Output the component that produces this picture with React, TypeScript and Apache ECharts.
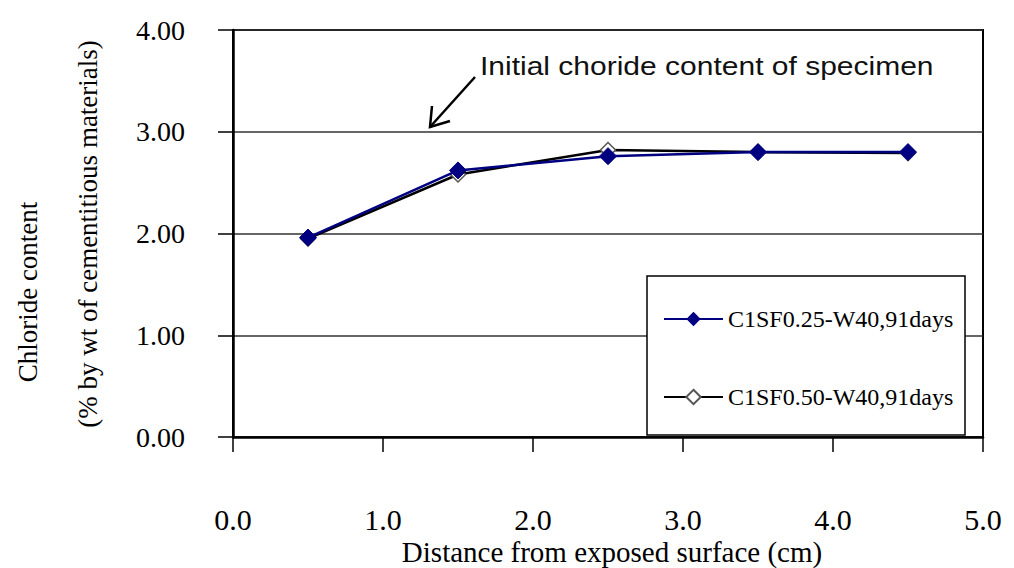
import React, { useEffect, useRef } from "react";
import * as echarts from "echarts";

const distances = [0.5, 1.5, 2.5, 3.5, 4.5];
const seriesA = [1.96, 2.62, 2.76, 2.8, 2.8];
const seriesB = [1.95, 2.58, 2.82, 2.8, 2.79];
const seriesNames = ["C1SF0.25-W40,91days", "C1SF0.50-W40,91days"];
const xTitle = "Distance from exposed surface (cm)";
const yTitle1 = "Chloride content";
const yTitle2 = "(% by wt of cementitious materials)";
const annotation = "Initial choride content of specimen";

const SERIF = "Liberation Serif";
const SANS = "Liberation Sans";

export default function App() {
  const ref = useRef<HTMLDivElement>(null);
  useEffect(() => {
    if (!ref.current) return;
    const chart = echarts.init(ref.current, undefined, { renderer: "svg" });
    chart.setOption({
      animation: false,
      backgroundColor: "#ffffff",
      textStyle: { fontFamily: SERIF },
      grid: {
        left: 233,
        top: 30,
        right: 31,
        bottom: 131,
        show: true,
        borderColor: "#000",
        borderWidth: 2,
        backgroundColor: "transparent",
      },
      xAxis: {
        type: "value",
        min: 0,
        max: 5,
        interval: 1,
        axisLine: { show: true, onZero: false, lineStyle: { color: "#000", width: 2.5 } },
        axisTick: { show: true, length: 15, lineStyle: { color: "#000", width: 1.5 } },
        axisLabel: {
          margin: 67,
          color: "#000",
          fontFamily: SERIF,
          fontSize: 30,
          formatter: (v: number) => v.toFixed(1),
        },
        splitLine: { show: false },
      },
      yAxis: {
        type: "value",
        min: 0,
        max: 4,
        interval: 1,
        axisLine: { show: true, lineStyle: { color: "#000", width: 2.5 } },
        axisTick: { show: true, length: 15, lineStyle: { color: "#000", width: 1.5 } },
        axisLabel: {
          margin: 48,
          color: "#000",
          fontFamily: SERIF,
          fontSize: 28,
          formatter: (v: number) => v.toFixed(2),
        },
        splitLine: { show: true, lineStyle: { color: "#333", width: 1.5 } },
      },
      legend: {
        orient: "vertical",
        left: 658,
        top: 302,
        itemWidth: 59,
        itemHeight: 18,
        itemGap: 54,
        z: 20,
        textStyle: { fontFamily: SERIF, fontSize: 24, color: "#000" },
        data: seriesNames,
      },
      graphic: [
        {
          type: "rect",
          z: 10,
          shape: { x: 647, y: 276, width: 318, height: 159 },
          style: { fill: "#fff", stroke: "#000", lineWidth: 1.5 },
        },
        {
          type: "text",
          z: 10,
          x: 480,
          y: 66,
          scaleX: 1.2,
          style: {
            text: annotation,
            fontFamily: SANS,
            fontSize: 25,
            fill: "#111",
            verticalAlign: "middle",
          },
        },
        {
          type: "line",
          z: 10,
          shape: { x1: 475, y1: 77, x2: 430, y2: 127 },
          style: { stroke: "#000", lineWidth: 2.5 },
        },
        {
          type: "polyline",
          z: 10,
          shape: { points: [[432, 106], [430, 127], [450, 121]] },
          style: { stroke: "#000", lineWidth: 2.5, fill: null },
        },
        {
          type: "text",
          z: 10,
          x: 28,
          y: 292,
          rotation: Math.PI / 2,
          style: {
            text: yTitle1,
            fontFamily: SERIF,
            fontSize: 27,
            fill: "#000",
            align: "center",
            verticalAlign: "middle",
          },
        },
        {
          type: "text",
          z: 10,
          x: 88,
          y: 234,
          rotation: Math.PI / 2,
          style: {
            text: yTitle2,
            fontFamily: SERIF,
            fontSize: 27,
            fill: "#000",
            align: "center",
            verticalAlign: "middle",
          },
        },
        {
          type: "text",
          z: 10,
          x: 612,
          y: 552,
          style: {
            text: xTitle,
            fontFamily: SERIF,
            fontSize: 29,
            fill: "#000",
            align: "center",
            verticalAlign: "middle",
          },
        },
      ],
      series: [
        {
          name: seriesNames[1],
          type: "line",
          z: 3,
          data: distances.map((d, i) => [d, seriesB[i]]),
          symbol: "diamond",
          symbolSize: 15,
          lineStyle: { color: "#000", width: 2.5 },
          itemStyle: { color: "#fff", borderColor: "#555", borderWidth: 1.5 },
        },
        {
          name: seriesNames[0],
          type: "line",
          z: 4,
          data: distances.map((d, i) => [d, seriesA[i]]),
          symbol: "diamond",
          symbolSize: 17,
          lineStyle: { color: "#000080", width: 2.5 },
          itemStyle: { color: "#000080", borderColor: "#000080" },
        },
      ],
    });
    return () => chart.dispose();
  }, []);
  return (
    <div
      ref={ref}
      style={{ position: "fixed", left: 0, top: 0, width: 1014, height: 568, background: "#fff" }}
    />
  );
}
